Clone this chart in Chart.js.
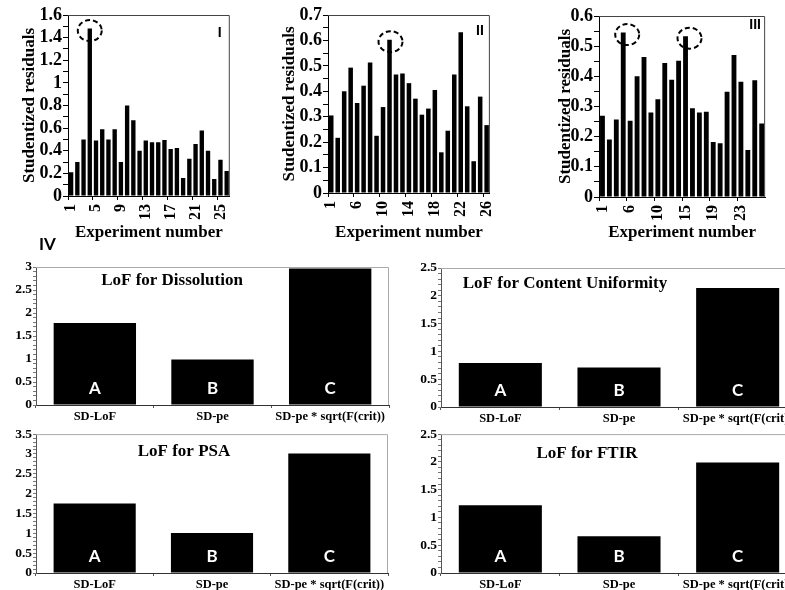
<!DOCTYPE html>
<html>
<head>
<meta charset="utf-8">
<script src="https://cdn.jsdelivr.net/npm/chart.js@4.4.1/dist/chart.umd.min.js"></script>
<style>
  html, body { margin: 0; padding: 0; width: 785px; height: 590px; overflow: hidden; background: #fff; }
  canvas { position: absolute; }
  #tagIV { position: absolute; left: 39px; top: 233px; font: bold 17px Lato, "Liberation Sans", sans-serif; color: #000; }
</style>
</head>
<body>
<canvas id="cI"   width="250" height="245" style="left:0px;top:0px"></canvas>
<canvas id="cII"  width="250" height="245" style="left:260px;top:0px"></canvas>
<canvas id="cIII" width="255" height="245" style="left:530px;top:0px"></canvas>
<canvas id="cDis" width="395" height="190" style="left:0px;top:235px"></canvas>
<canvas id="cCU"  width="398" height="190" style="left:405px;top:235px"></canvas>
<canvas id="cPSA" width="394" height="165" style="left:0px;top:425px"></canvas>
<canvas id="cFT"  width="398" height="165" style="left:405px;top:425px"></canvas>
<div id="tagIV">IV</div>
<script>
// ---- Studentized residuals per experiment (three model fits) ----
const expI = [1, 2, 3, 4, 5, 6, 7, 8, 9, 10, 11, 12, 13, 14, 15, 16, 17, 18, 19, 20, 21, 22, 23, 24, 25, 26];
const resI = [0.21, 0.30, 0.50, 1.48, 0.49, 0.59, 0.50, 0.59, 0.30, 0.80, 0.67, 0.40, 0.49, 0.475, 0.475, 0.495,
              0.415, 0.425, 0.16, 0.33, 0.46, 0.58, 0.40, 0.15, 0.32, 0.22];
const flaggedI = [4];

const expII = [1, 2, 3, 5, 6, 7, 8, 9, 10, 11, 12, 13, 14, 15, 16, 17, 18, 19, 20, 21, 22, 23, 24, 25, 26];
const resII = [0.305, 0.217, 0.40, 0.493, 0.354, 0.422, 0.513, 0.225, 0.338, 0.603, 0.466, 0.47, 0.432,
               0.371, 0.308, 0.332, 0.405, 0.16, 0.245, 0.466, 0.632, 0.341, 0.125, 0.379, 0.267];
const flaggedII = [11];

const expIII = [1, 2, 3, 5, 6, 7, 8, 9, 10, 12, 13, 14, 15, 16, 17, 18, 19, 20, 21, 22, 23, 24, 25, 26];
const resIII = [0.269, 0.191, 0.257, 0.545, 0.253, 0.40, 0.464, 0.28, 0.324, 0.444, 0.389, 0.452, 0.533,
                0.294, 0.28, 0.283, 0.182, 0.178, 0.349, 0.471, 0.382, 0.156, 0.387, 0.244];
const flaggedIII = [5, 15];

// ---- Lack-of-fit comparison per response ----
const lofCategories = ['SD-LoF', 'SD-pe', 'SD-pe * sqrt(F(crit))'];
const barTags = ['A', 'B', 'C'];
const lofDissolution = [1.78, 0.99, 2.97];
const lofContent = [0.79, 0.71, 2.14];
const lofPSA = [1.75, 1.01, 3.01];
const lofFTIR = [1.22, 0.66, 1.99];

const SERIF = '"Liberation Serif", "Times New Roman", serif';
const SANS = '"Liberation Sans", Arial, sans-serif';

// box around the plotting area
function framePlugin(color) {
  return {
    id: 'frame',
    afterDatasetsDraw(chart) {
      const a = chart.chartArea, ctx = chart.ctx;
      ctx.save();
      ctx.strokeStyle = color;
      ctx.lineWidth = 1;
      ctx.beginPath();
      ctx.moveTo(a.left, a.top + 0.5);
      ctx.lineTo(a.right - 0.5, a.top + 0.5);
      ctx.lineTo(a.right - 0.5, a.bottom);
      ctx.stroke();
      ctx.restore();
    }
  };
}

// dashed rings around flagged experiments
function ringPlugin(flagged, dx) {
  return {
    id: 'rings',
    afterDatasetsDraw(chart) {
      const meta = chart.getDatasetMeta(0);
      const labels = chart.data.labels;
      const ctx = chart.ctx;
      ctx.save();
      ctx.setLineDash([5, 3]);
      ctx.lineWidth = 2;
      ctx.strokeStyle = '#000';
      flagged.forEach(f => {
        const bar = meta.data[labels.indexOf(f)];
        ctx.beginPath();
        ctx.ellipse(bar.x + dx, bar.y + 2, 12, 10.5, 0, 0, Math.PI * 2);
        ctx.stroke();
      });
      ctx.restore();
    }
  };
}

// roman panel tag in the upper right corner
function cornerTag(text, dy) {
  return {
    id: 'cornerTag',
    afterDraw(chart) {
      const a = chart.chartArea, ctx = chart.ctx;
      ctx.save();
      ctx.font = 'bold 14px ' + SANS;
      ctx.fillStyle = '#000';
      ctx.textAlign = 'center';
      ctx.textBaseline = 'middle';
      ctx.fillText(text, a.right - 10, a.top + dy);
      ctx.restore();
    }
  };
}

// heading inside the plot and letters on the bars
function lofDecor(heading, hx, hy) {
  return {
    id: 'lofDecor',
    afterDatasetsDraw(chart) {
      const a = chart.chartArea, ctx = chart.ctx;
      const meta = chart.getDatasetMeta(0);
      ctx.save();
      ctx.font = 'bold 17px ' + SERIF;
      ctx.fillStyle = '#000';
      ctx.textAlign = 'center';
      ctx.textBaseline = 'middle';
      ctx.fillText(heading, a.left + hx, a.top + hy);
      ctx.font = 'bold 17px Lato, ' + SANS;
      ctx.fillStyle = '#fff';
      meta.data.forEach((bar, i) => {
        ctx.fillText(barTags[i], bar.x, a.bottom - 16);
      });
      ctx.restore();
    }
  };
}

function isMultiple(v, step) {
  return Math.abs(v / step - Math.round(v / step)) < 1e-6;
}
function fmt(v) {
  return String(Math.round(v * 10) / 10);
}

function residualChart(id, labels, values, flagged, cfg) {
  return new Chart(document.getElementById(id), {
    type: 'bar',
    data: {
      labels: labels,
      datasets: [{
        data: values,
        backgroundColor: '#000',
        borderWidth: 0,
        barPercentage: 0.7,
        categoryPercentage: 1
      }]
    },
    options: {
      responsive: false,
      animation: false,
      devicePixelRatio: 1,
      layout: { padding: { top: cfg.padTop, right: cfg.padRight, left: 0, bottom: 0 } },
      plugins: { legend: { display: false }, tooltip: { enabled: false } },
      scales: {
        x: {
          grid: {
            drawOnChartArea: false,
            tickLength: 4,
            tickColor: c => (c.index % 4 === 0 ? '#000' : 'rgba(0,0,0,0)')
          },
          border: { color: '#000', width: 1 },
          ticks: {
            autoSkip: false,
            minRotation: 90,
            maxRotation: 90,
            padding: 4,
            color: '#000',
            font: { family: SERIF, size: 16, weight: 'bold' },
            callback: function (v, i) { return i % 4 === 0 ? String(this.getLabelForValue(v)) : ''; }
          },
          title: {
            display: true,
            text: 'Experiment number',
            color: '#000',
            font: { family: SERIF, size: 17, weight: 'bold' },
            padding: { top: 0, bottom: 2 }
          },
          afterFit: s => { s.height = cfg.xHeight; }
        },
        y: {
          min: 0,
          max: cfg.yMax,
          grid: { drawOnChartArea: false, tickLength: 5, tickColor: '#000' },
          border: { color: '#000', width: 1 },
          ticks: {
            stepSize: cfg.minor,
            autoSkip: false,
            padding: 1,
            color: '#000',
            font: { family: SERIF, size: 18, weight: 'bold' },
            callback: v => (isMultiple(v, cfg.major) ? fmt(v) : '')
          },
          title: {
            display: true,
            text: 'Studentized residuals',
            color: '#000',
            font: { family: SERIF, size: 17, weight: 'bold' },
            padding: { top: cfg.titlePad, bottom: 0 }
          },
          afterFit: s => { s.width = cfg.yWidth; }
        }
      }
    },
    plugins: [framePlugin('#444'), ringPlugin(flagged, cfg.ringDx), cornerTag(cfg.tag, cfg.tagDy)]
  });
}

function lofChart(id, heading, values, cfg) {
  return new Chart(document.getElementById(id), {
    type: 'bar',
    data: {
      labels: lofCategories,
      datasets: [{
        data: values,
        backgroundColor: '#000',
        borderWidth: 0,
        barPercentage: 0.7,
        categoryPercentage: 1
      }]
    },
    options: {
      responsive: false,
      animation: false,
      devicePixelRatio: 1,
      layout: { padding: { top: cfg.padTop, right: 6, left: 0, bottom: 0 } },
      plugins: { legend: { display: false }, tooltip: { enabled: false } },
      scales: {
        x: {
          grid: { drawOnChartArea: false, tickLength: 3, tickColor: '#555' },
          border: { color: '#333', width: 1 },
          ticks: {
            padding: 1,
            color: '#000',
            maxRotation: 0,
            font: { family: SERIF, size: 12.5, weight: 'bold' }
          },
          afterFit: s => { s.height = cfg.xHeight; }
        },
        y: {
          min: 0,
          max: cfg.yMax,
          grid: { drawOnChartArea: false, tickLength: 3, tickColor: '#777' },
          border: { color: '#555', width: 1 },
          ticks: {
            stepSize: 0.1,
            autoSkip: false,
            padding: 1,
            color: '#000',
            font: { family: SERIF, size: 13.5, weight: 'bold' },
            callback: v => (isMultiple(v, 0.5) ? fmt(v) : '')
          },
          afterFit: s => { s.width = 36; }
        }
      }
    },
    plugins: [framePlugin('#aaa'), lofDecor(heading, cfg.hx, cfg.hy)]
  });
}

residualChart('cI', expI, resI, flaggedI,
  { yMax: 1.6, major: 0.2, minor: 0.1, padTop: 15, padRight: 6, xHeight: 49, yWidth: 68, titlePad: 19, ringDx: 0, tag: 'I', tagDy: 18 });
residualChart('cII', expII, resII, flaggedII,
  { yMax: 0.7, major: 0.1, minor: 0.05, padTop: 15, padRight: 8, xHeight: 52, yWidth: 68, titlePad: 19, ringDx: 1, tag: 'II', tagDy: 16 });
residualChart('cIII', expIII, resIII, flaggedIII,
  { yMax: 0.6, major: 0.1, minor: 0.05, padTop: 16, padRight: 6, xHeight: 48, yWidth: 69, titlePad: 25, ringDx: 4, tag: 'III', tagDy: 9 });

lofChart('cDis', 'LoF for Dissolution', lofDissolution, { yMax: 3, padTop: 32, xHeight: 20, hx: 136, hy: 14 });
lofChart('cCU', 'LoF for Content Uniformity', lofContent, { yMax: 2.5, padTop: 33, xHeight: 18, hx: 124, hy: 16 });
lofChart('cPSA', 'LoF for PSA', lofPSA, { yMax: 3.5, padTop: 9, xHeight: 17, hx: 148, hy: 18 });
lofChart('cFT', 'LoF for FTIR', lofFTIR, { yMax: 2.5, padTop: 9, xHeight: 17, hx: 146, hy: 20 });
</script>
</body>
</html>
